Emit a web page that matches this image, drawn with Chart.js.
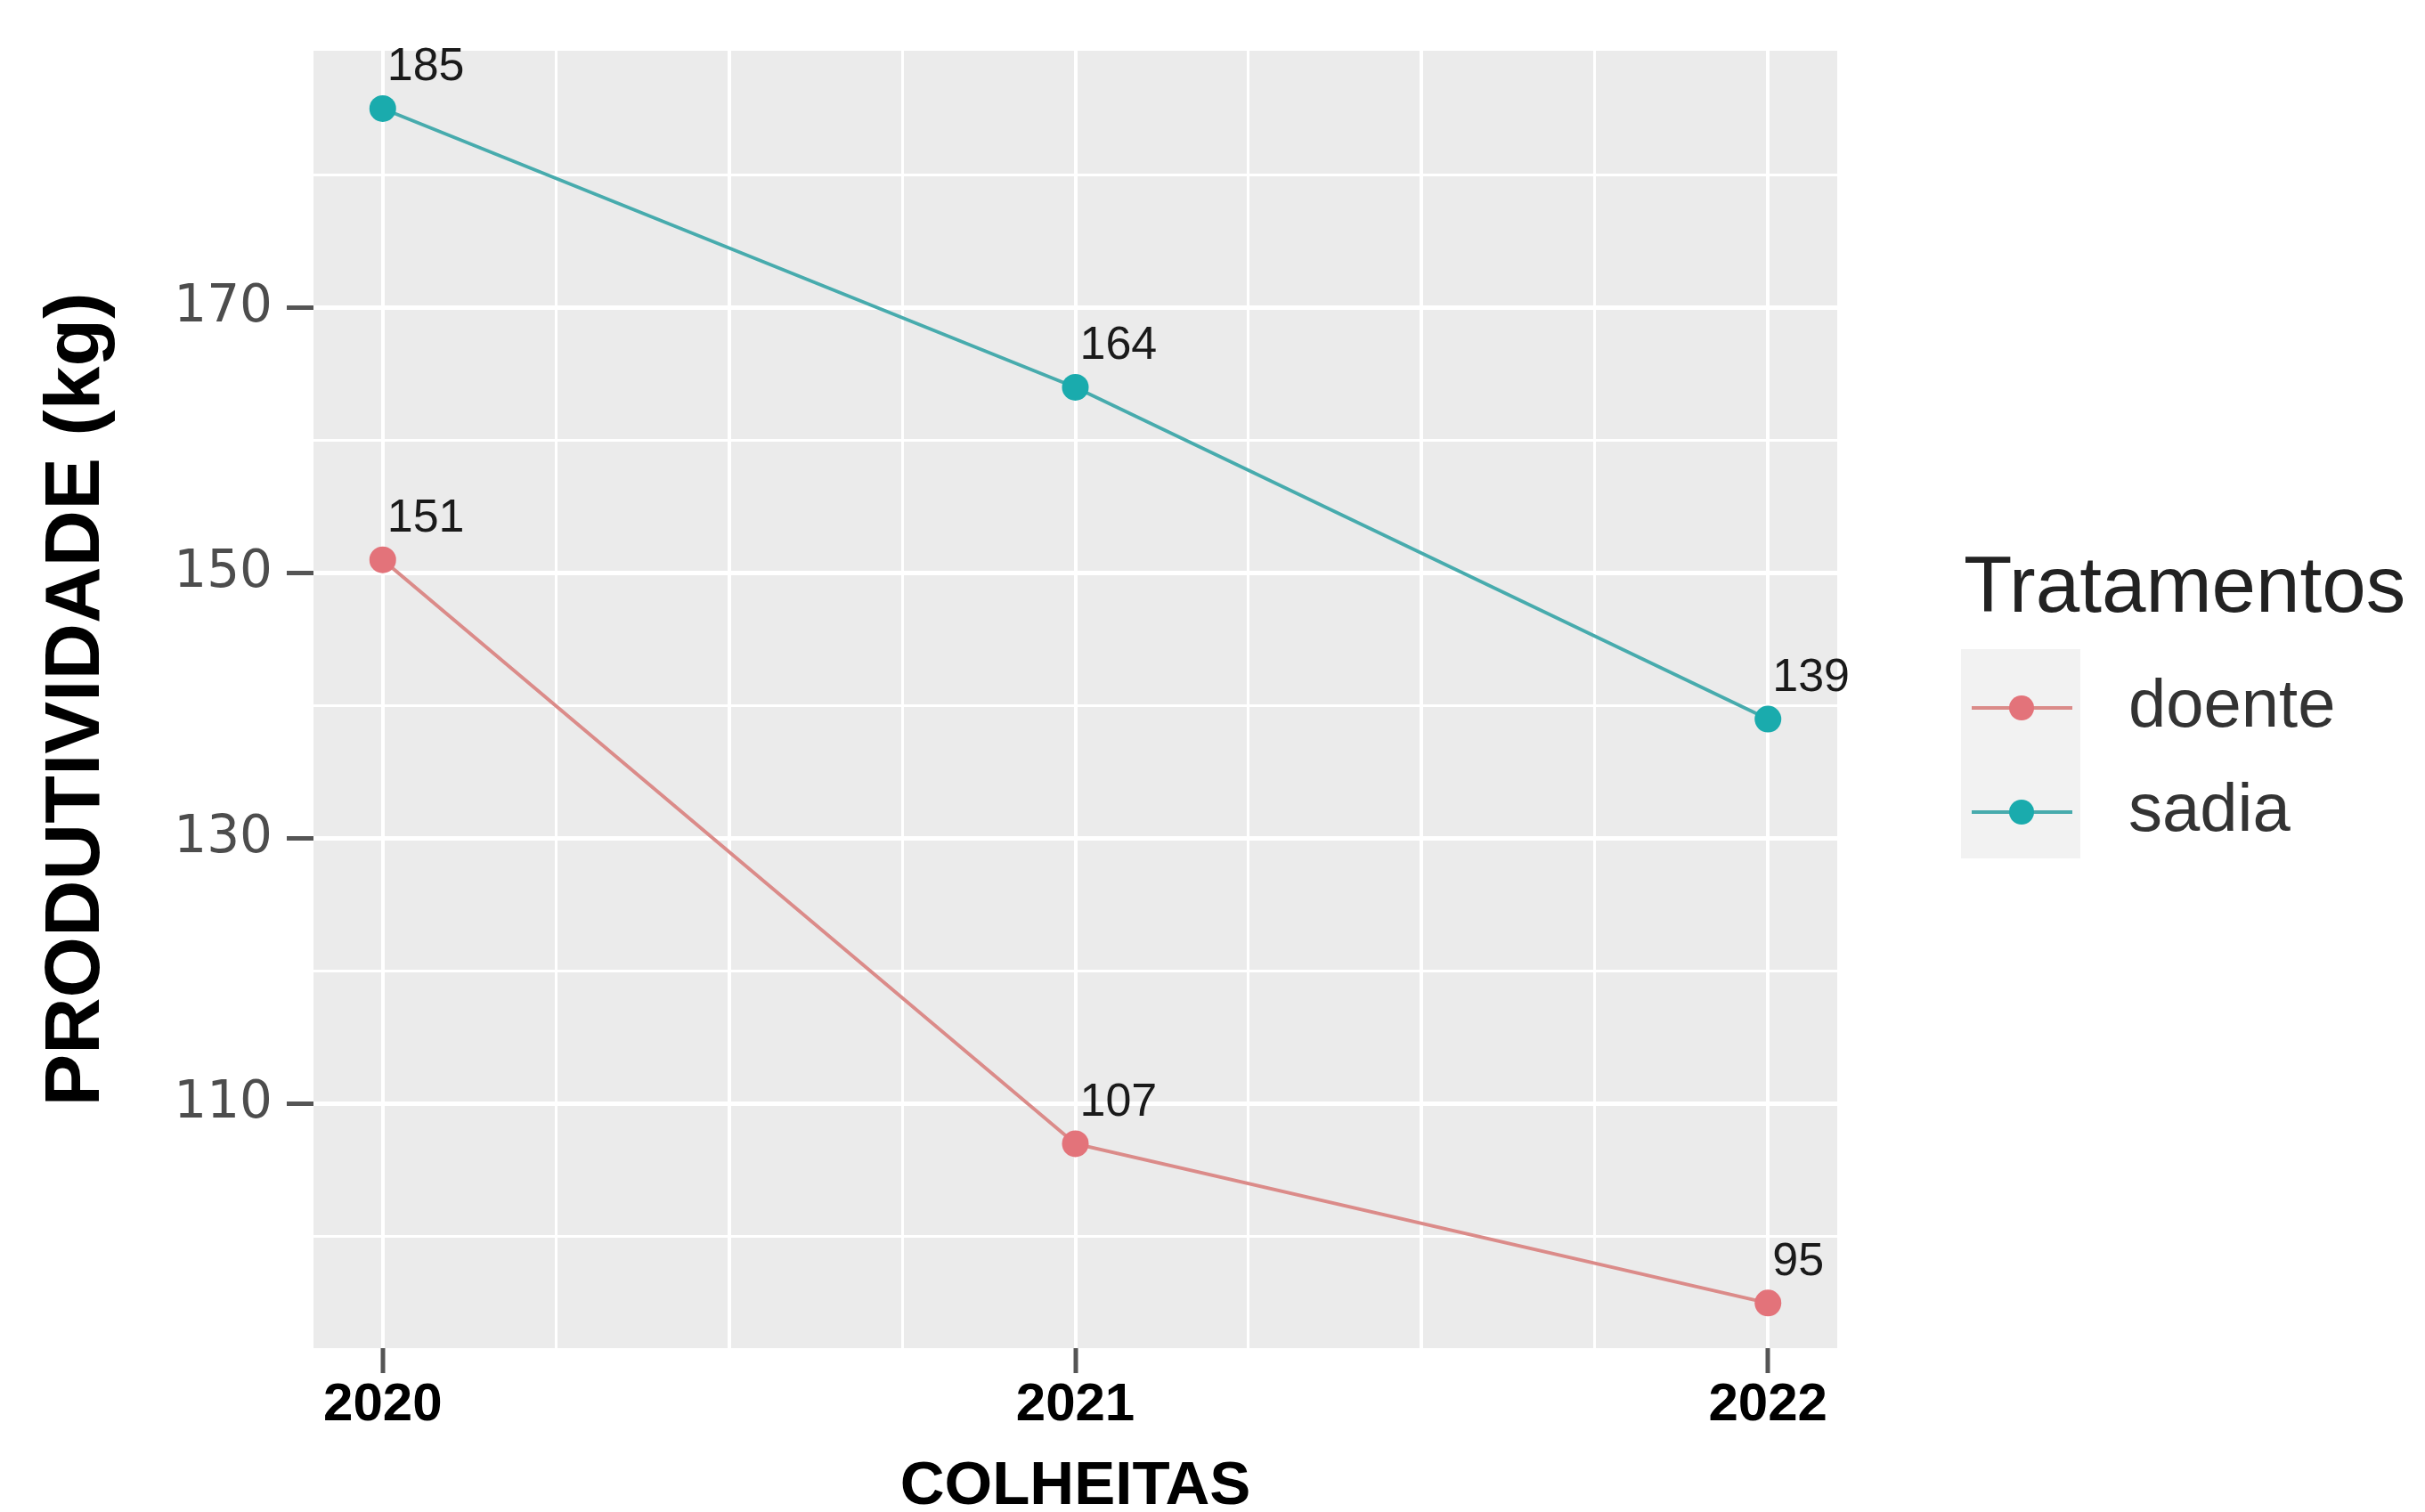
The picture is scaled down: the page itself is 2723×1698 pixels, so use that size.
<!DOCTYPE html>
<html>
<head>
<meta charset="utf-8">
<script src="https://cdn.jsdelivr.net/npm/chart.js@4.4.1/dist/chart.umd.min.js"></script>
<style>
  html, body { margin: 0; padding: 0; background: #ffffff; }
  canvas { display: block; }
</style>
</head>
<body>
<canvas id="c" width="2723" height="1698"></canvas>
<script>
// ---- data ----
const years = [2020, 2021, 2022];
const doente = [151, 107, 95];
const sadia = [185, 164, 139];
const seriesNames = ['doente', 'sadia'];
const yTickLabels = [110, 130, 150, 170];
const yGridValues = [100, 110, 120, 130, 140, 150, 160, 170, 180];
const xTickLabels = [2020, 2021, 2022];
const xGridValues = [2020, 2020.25, 2020.5, 2020.75, 2021, 2021.25, 2021.5, 2021.75, 2022];
const yTitle = 'PRODUTIVIDADE (kg)';
const xTitle = 'COLHEITAS';
const legendTitle = 'Tratamentos';

const lineColors = ['#DB8B89', '#47ABAD'];
const pointColors = ['#E3737A', '#1AABAD'];

function toPoints(vals) { return years.map((y, i) => ({ x: y, y: vals[i] })); }

const panelBg = {
  id: 'panelBg',
  beforeDraw(chart) {
    const { ctx, chartArea: a } = chart;
    ctx.save();
    ctx.fillStyle = '#EBEBEB';
    ctx.fillRect(a.left, a.top, a.right - a.left, a.bottom - a.top);
    ctx.restore();
  }
};

const valueLabels = {
  id: 'valueLabels',
  afterDatasetsDraw(chart) {
    const ctx = chart.ctx;
    ctx.save();
    ctx.font = '52px "Liberation Sans", Arial, sans-serif';
    ctx.fillStyle = '#1a1a1a';
    ctx.textAlign = 'left';
    ctx.textBaseline = 'middle';
    chart.data.datasets.forEach((ds, di) => {
      const meta = chart.getDatasetMeta(di);
      meta.data.forEach((el, i) => {
        ctx.fillText(String(ds.data[i].y), el.x + 5, el.y - 46);
      });
    });
    ctx.restore();
  }
};

const ggLegend = {
  id: 'ggLegend',
  afterDraw(chart) {
    const { ctx, chartArea: a } = chart;
    const x0 = a.right + 139;
    ctx.save();
    ctx.fillStyle = '#222222';
    ctx.font = '89px "Liberation Sans", Arial, sans-serif';
    ctx.textAlign = 'left';
    ctx.textBaseline = 'alphabetic';
    ctx.fillText(legendTitle, x0 + 3, 687);
    // key background
    ctx.fillStyle = '#F2F2F2';
    ctx.fillRect(x0, 729, 134, 235);
    const ys = [795, 912];
    chart.data.datasets.forEach((ds, i) => {
      const y = ys[i];
      ctx.strokeStyle = ds.borderColor;
      ctx.lineWidth = 4;
      ctx.beginPath();
      ctx.moveTo(x0 + 12, y);
      ctx.lineTo(x0 + 125, y);
      ctx.stroke();
      ctx.fillStyle = ds.pointBackgroundColor;
      ctx.beginPath();
      ctx.arc(x0 + 68, y, 14, 0, Math.PI * 2);
      ctx.fill();
      ctx.fillStyle = '#333333';
      ctx.font = '76px "Liberation Sans", Arial, sans-serif';
      ctx.textBaseline = 'middle';
      ctx.fillText(ds.label, x0 + 188, y);
    });
    ctx.restore();
  }
};

const datasets = [doente, sadia].map((vals, i) => ({
  label: seriesNames[i],
  data: toPoints(vals),
  borderColor: lineColors[i],
  backgroundColor: pointColors[i],
  pointBackgroundColor: pointColors[i],
  pointBorderWidth: 0,
  pointRadius: 15,
  borderWidth: 4,
  tension: 0,
  fill: false
}));

new Chart(document.getElementById('c'), {
  type: 'line',
  data: { datasets },
  plugins: [panelBg, valueLabels, ggLegend],
  options: {
    responsive: false,
    animation: false,
    devicePixelRatio: 1,
    layout: { padding: { top: 57, right: 660, left: 0, bottom: 0 } },
    plugins: { legend: { display: false }, tooltip: { enabled: false } },
    scales: {
      x: {
        type: 'linear',
        min: 2019.9,
        max: 2022.1,
        afterBuildTicks(axis) { axis.ticks = xGridValues.map(v => ({ value: v })); },
        afterFit(axis) { axis.height = 184; axis.paddingLeft = 0; axis.paddingRight = 0; },
        border: { display: false },
        grid: {
          color: '#FFFFFF',
          lineWidth: c => (c.tick && c.tick.value % 0.5 === 0 ? 4 : 3),
          tickLength: 28,
          tickWidth: 5,
          tickColor: c => (c.tick && xTickLabels.includes(c.tick.value) ? '#555555' : 'rgba(0,0,0,0)')
        },
        ticks: {
          autoSkip: false,
          maxRotation: 0,
          padding: 0,
          color: '#000000',
          font: { family: '"Liberation Sans", Arial, sans-serif', size: 60, weight: 'bold' },
          callback: v => (xTickLabels.includes(v) ? String(v) : '')
        },
        title: {
          display: true,
          text: xTitle,
          color: '#000000',
          padding: { top: 0, bottom: 0 },
          font: { family: '"Liberation Sans", Arial, sans-serif', size: 69, weight: 'bold', lineHeight: 0.8 }
        }
      },
      y: {
        type: 'linear',
        min: 91.6,
        max: 189.36,
        afterBuildTicks(axis) { axis.ticks = yGridValues.map(v => ({ value: v })); },
        afterFit(axis) { axis.width = 352; axis.paddingTop = 0; axis.paddingBottom = 0; },
        border: { display: false },
        grid: {
          color: '#FFFFFF',
          lineWidth: c => (c.tick && yTickLabels.includes(c.tick.value) ? 5 : 3),
          tickLength: 30,
          tickWidth: 5,
          tickColor: c => (c.tick && yTickLabels.includes(c.tick.value) ? '#555555' : 'rgba(0,0,0,0)')
        },
        ticks: {
          autoSkip: false,
          padding: 16,
          color: '#4D4D4D',
          font: { family: '"DejaVu Sans", sans-serif', size: 58 },
          callback: v => (yTickLabels.includes(v) ? String(v) : '')
        },
        title: {
          display: true,
          text: yTitle,
          color: '#000000',
          padding: { top: 43, bottom: 0 },
          font: { family: '"Liberation Sans", Arial, sans-serif', size: 88, weight: 'bold', lineHeight: 1 }
        }
      }
    }
  }
});
</script>
</body>
</html>
